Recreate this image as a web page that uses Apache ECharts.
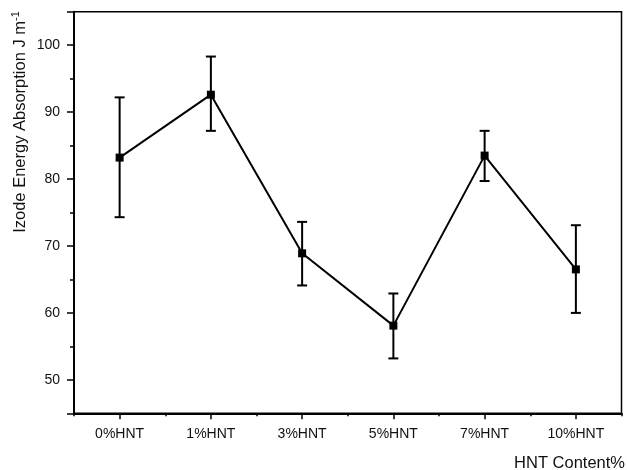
<!DOCTYPE html>
<html>
<head>
<meta charset="utf-8">
<script src="https://cdn.jsdelivr.net/npm/echarts@6/dist/echarts.min.js"></script>
<style>
html,body{margin:0;padding:0;background:#fff;}
#chart{width:628px;height:470px;}
</style>
</head>
<body>
<div id="chart"></div>
<script>
var categories = ['0%HNT', '1%HNT', '3%HNT', '5%HNT', '7%HNT', '10%HNT'];
var values = [83.2, 92.6, 68.9, 58.1, 83.5, 66.5];
var errLow = [74.3, 87.2, 64.1, 53.2, 79.7, 60.0];
var errHigh = [92.2, 98.3, 73.6, 62.9, 87.2, 73.1];
var yTicks = [50, 60, 70, 80, 90, 100];

var FONT = 'Liberation Sans, Arial, sans-serif';
var chart = echarts.init(document.getElementById('chart'));

var errData = categories.map(function (c, i) { return [i, errLow[i], errHigh[i]]; });

var option = {
  animation: false,
  backgroundColor: '#fff',
  grid: {
    left: 74, right: 6.5, top: 11.7, bottom: 56.7,
    show: true, borderColor: '#000', borderWidth: 1.5, backgroundColor: 'transparent'
  },
  graphic: [{
    type: 'text',
    x: 20, y: 122,
    rotation: Math.PI / 2,
    style: {
      text: '{a|Izode Energy Absorption J m}{s|-1}',
      align: 'center', verticalAlign: 'middle',
      rich: {
        a: { fontSize: 16.5, fontFamily: FONT, fill: '#111' },
        s: { fontSize: 11, fontFamily: FONT, fill: '#111', padding: [0, 0, 9, 0] }
      }
    }
  }, {
    type: 'text',
    x: 625, y: 463,
    style: { text: 'HNT Content%', fontSize: 16.5, fontFamily: FONT, fill: '#111', align: 'right', verticalAlign: 'middle' }
  }],
  xAxis: [{
    type: 'category',
    data: categories,
    position: 'bottom',
    boundaryGap: true,
    axisLine: { lineStyle: { color: '#000', width: 2 } },
    axisTick: { show: true, alignWithLabel: true, length: 6, inside: false, lineStyle: { color: '#000', width: 1.5 } },
    axisLabel: { fontSize: 14, fontFamily: FONT, color: '#111', margin: 14, interval: 0 },
    splitLine: { show: false }
  }, {
    type: 'category',
    data: categories,
    position: 'bottom',
    boundaryGap: true,
    axisLine: { show: false },
    axisTick: { show: true, alignWithLabel: false, length: 3, lineStyle: { color: '#000', width: 1.5 } },
    axisLabel: { show: false },
    splitLine: { show: false }
  }],
  yAxis: [{
    type: 'value',
    min: 45, max: 105, interval: 5,
    position: 'left',
    axisLine: { show: true, lineStyle: { color: '#000', width: 2 } },
    axisTick: { show: true, length: 4, lineStyle: { color: '#000', width: 1.5 } },
    axisLabel: {
      fontSize: 14, fontFamily: FONT, color: '#111', margin: 14,
      formatter: function (v) { return yTicks.indexOf(v) >= 0 ? String(v) : ''; }
    },
    splitLine: { show: false }
  }, {
    type: 'value',
    min: 45, max: 105, splitNumber: 6,
    position: 'left',
    axisLine: { show: false },
    axisTick: { show: true, length: 7, lineStyle: { color: '#000', width: 1.5 } },
    axisLabel: { show: false },
    splitLine: { show: false }
  }],
  series: [{
    type: 'custom',
    xAxisIndex: 0, yAxisIndex: 0,
    data: errData,
    z: 2,
    renderItem: function (params, api) {
      var x = api.value(0);
      var lo = api.coord([x, api.value(1)]);
      var hi = api.coord([x, api.value(2)]);
      var hw = 5;
      var st = { stroke: '#000', lineWidth: 2 };
      return {
        type: 'group',
        children: [
          { type: 'line', shape: { x1: lo[0], y1: lo[1], x2: hi[0], y2: hi[1] }, style: st },
          { type: 'line', shape: { x1: lo[0] - hw, y1: lo[1], x2: lo[0] + hw, y2: lo[1] }, style: st },
          { type: 'line', shape: { x1: hi[0] - hw, y1: hi[1], x2: hi[0] + hw, y2: hi[1] }, style: st }
        ]
      };
    }
  }, {
    type: 'line',
    xAxisIndex: 0, yAxisIndex: 0,
    data: values,
    z: 3,
    symbol: 'rect',
    symbolSize: 8,
    lineStyle: { color: '#000', width: 2 },
    itemStyle: { color: '#000' }
  }]
};
chart.setOption(option);
</script>
</body>
</html>
